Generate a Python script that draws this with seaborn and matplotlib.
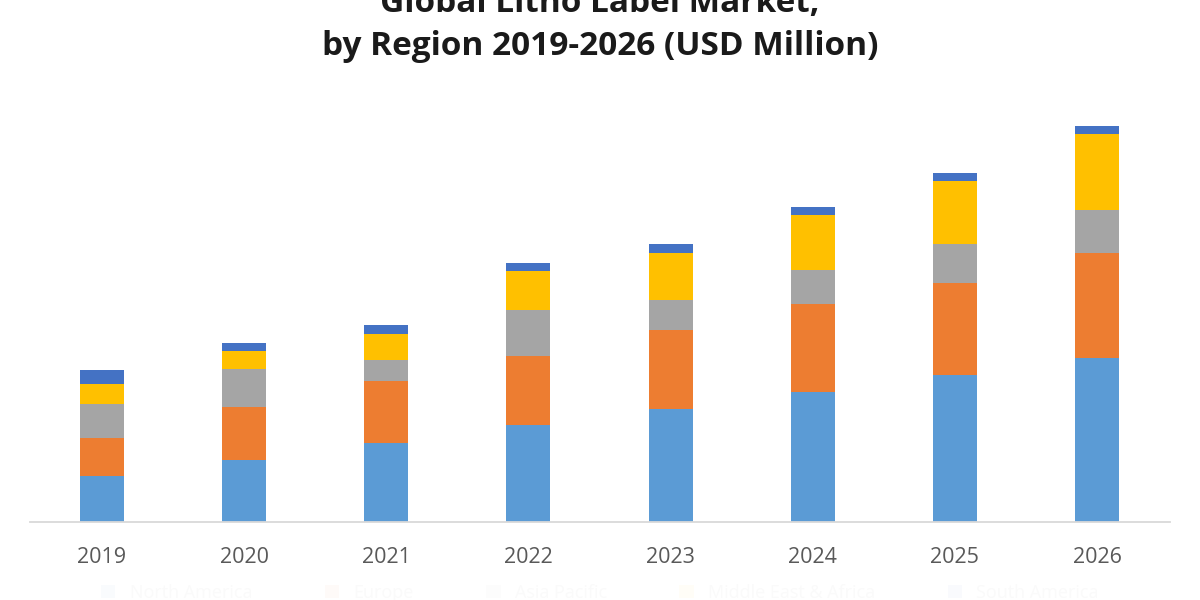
"""Global Litho Label Market by region — stacked bar chart."""

import matplotlib

matplotlib.use("Agg")

import matplotlib.pyplot as plt
import numpy as np
import pandas as pd
import seaborn as sns

# データ (USD Million, 図から読み取った推定値)
years = ["2019", "2020", "2021", "2022", "2023", "2024", "2025", "2026"]
regions = [
    "North America",
    "Europe",
    "Asia Pacific",
    "Middle East & Africa",
    "South America",
]
north_america = [46, 62, 79, 97, 113, 130, 147, 164]
europe = [38, 53, 62, 69, 79, 88, 92, 105]
asia_pacific = [34, 38, 21, 46, 30, 34, 39, 43]
middle_east_africa = [20, 18, 26, 39, 47, 55, 63, 76]
south_america = [14, 8, 9, 8, 9, 8, 8, 8]

series = [north_america, europe, asia_pacific, middle_east_africa, south_america]
colors = ["#5B9BD5", "#ED7D31", "#A5A5A5", "#FFC000", "#4472C4"]

sns.set_theme(style="white")
plt.rcParams["font.family"] = ["Open Sans", "DejaVu Sans"]

fig = plt.figure(figsize=(12, 6), dpi=100)
ax = fig.add_axes([0.025, 0.13, 0.95, 0.7033])

bottom = np.zeros(len(years))
for name, values, color in zip(regions, series, colors):
    df = pd.DataFrame({"year": years, "value": values})
    sns.barplot(
        data=df,
        x="year",
        y="value",
        color=color,
        width=0.31,
        errorbar=None,
        bottom=bottom,
        linewidth=0,
        saturation=1,
        label=name,
        ax=ax,
    )
    bottom = bottom + np.array(values)

ax.set_xlim(-0.507, 7.514)
ax.set_ylim(0, 422)
ax.set_xlabel("")
ax.set_ylabel("")
ax.set_yticks([])
ax.tick_params(axis="x", length=0, pad=18, labelsize=15.5, labelcolor="#595959")
for side in ["top", "left", "right"]:
    ax.spines[side].set_visible(False)
ax.spines["bottom"].set_color("#D9D9D9")
ax.spines["bottom"].set_linewidth(1.3)

# 凡例はほぼ見えないほど薄い
handles, labels = ax.get_legend_handles_labels()
if ax.legend_ is not None:
    ax.legend_.remove()
leg = fig.legend(
    handles,
    labels,
    loc="center",
    bbox_to_anchor=(0.5, 0.012),
    ncol=5,
    frameon=False,
    fontsize=13,
    labelcolor="#FAFAFA",
    handlelength=0.8,
    columnspacing=4,
)
for h in leg.legend_handles:
    h.set_alpha(0.03)

fig.text(
    0.5,
    0.995,
    "Global Litho Label Market,",
    ha="center",
    va="center",
    fontsize=24,
    fontweight="bold",
    color="#1a1a1a",
)
fig.text(
    0.5,
    0.922,
    "by Region 2019-2026 (USD Million)",
    ha="center",
    va="center",
    fontsize=24,
    fontweight="bold",
    color="#1a1a1a",
)

fig.savefig("out.png", dpi=100)
